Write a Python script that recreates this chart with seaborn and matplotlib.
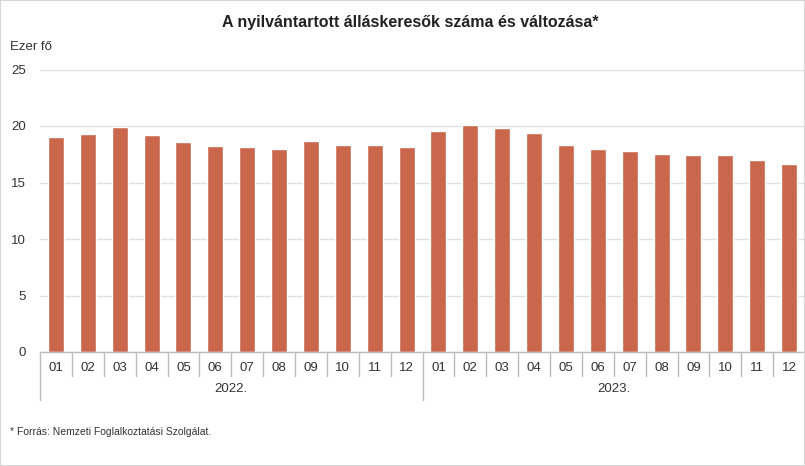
import matplotlib
matplotlib.use("Agg")
import matplotlib.pyplot as plt
import matplotlib.transforms as mtransforms
from matplotlib.patches import Rectangle
import seaborn as sns
import pandas as pd
import numpy as np

months = ["01", "02", "03", "04", "05", "06", "07", "08", "09", "10", "11", "12"]
years = ["2022.", "2023."]
values_2022 = [19.05, 19.3, 19.95, 19.2, 18.6, 18.25, 18.1, 18.0, 18.7, 18.35, 18.35, 18.1]
values_2023 = [19.6, 20.05, 19.85, 19.4, 18.35, 18.0, 17.8, 17.55, 17.4, 17.4, 17.0, 16.6]

title = "A nyilvántartott álláskeresők száma és változása*"
unit_label = "Ezer fő"
footnote = "* Forrás: Nemzeti Foglalkoztatási Szolgálat."

sns.set_theme(style="white")
plt.rcParams["font.family"] = ["Liberation Sans", "DejaVu Sans"]

df = pd.DataFrame({
    "key": [f"{y}{m}" for y in years for m in months],
    "month": months * 2,
    "value": values_2022 + values_2023,
})

fig = plt.figure(figsize=(8.05, 4.66), dpi=100)
ax = fig.add_axes([40 / 805, 1 - 352 / 466, 1 - 40 / 805, (352 - 69.5) / 466])

sns.barplot(data=df, x="key", y="value", color="#C9664B", width=0.5,
            saturation=1, ax=ax, order=df["key"].tolist())

n = len(df)
ax.set_xlim(-0.5, n - 0.5)
ax.set_ylim(0, 25)
ax.set_yticks([0, 5, 10, 15, 20, 25])
ax.set_yticklabels(["0", "5", "10", "15", "20", "25"])
ax.tick_params(axis="y", length=0, labelsize=9.5, labelcolor="#333333", pad=10)
ax.yaxis.grid(True, color="#e0e0e0", linewidth=1)
ax.set_axisbelow(True)
for s in ["left", "right", "top"]:
    ax.spines[s].set_visible(False)
ax.spines["bottom"].set_color("#bbbbbb")
ax.spines["bottom"].set_linewidth(1)
ax.set_xlabel("")
ax.set_ylabel("")

# month labels
ax.set_xticks(np.arange(n))
ax.set_xticklabels(df["month"].tolist())
ax.tick_params(axis="x", length=0, labelsize=9.5, labelcolor="#333333", pad=7.5)

# separators between categories
trans = mtransforms.blended_transform_factory(ax.transData, ax.transAxes)
px = 1 / ((352 - 69.5))  # one pixel in axes fraction (vertical)
for i in range(n + 1):
    xpos = i - 0.5
    ln = 48 if i % 12 == 0 else 24
    ax.plot([xpos, xpos], [0, -ln * px], transform=trans, color="#bbbbbb",
            linewidth=1, clip_on=False)

for j, y in enumerate(years):
    ax.text(j * 12 + 5.5, -37.5 * px, y, transform=trans, ha="center", va="center",
            fontsize=9.5, color="#333333")

fig.text(410 / 805, 1 - 22 / 466, title, ha="center", va="center",
         fontsize=11.5, fontweight="bold", color="#222222")
fig.text(10 / 805, 1 - 47 / 466, unit_label, ha="left", va="center",
         fontsize=9.5, color="#333333")
fig.text(10 / 805, 1 - 432 / 466, footnote, ha="left", va="center",
         fontsize=7.5, color="#333333")

fig.patches.append(Rectangle((0, 0), 1, 1, transform=fig.transFigure, fill=False,
                             edgecolor="#d5d5d5", linewidth=1.5))

fig.savefig("out.png", dpi=100)
